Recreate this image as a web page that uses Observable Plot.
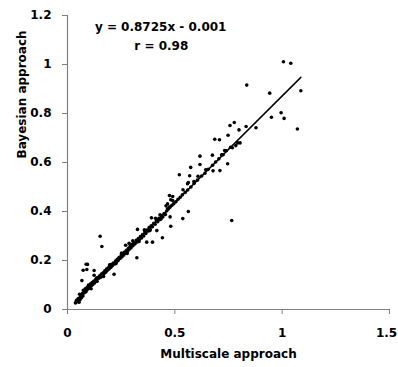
<!DOCTYPE html>
<html><head><meta charset="utf-8">
<script src="https://cdn.jsdelivr.net/npm/d3@7"></script>
<script src="https://cdn.jsdelivr.net/npm/@observablehq/plot@0.6"></script>
<style>body{margin:0;background:#fff}</style>
</head><body><div id="chart"></div>
<script>
const multiscale = [
0.037,0.054,0.042,0.048,0.050,0.058,0.060,0.056,0.065,0.067,0.070,0.072,0.074,0.078,0.080,0.083,0.086,0.090,0.092,0.096,
0.098,0.102,0.105,0.108,0.112,0.115,0.118,0.122,0.126,0.130,0.134,0.138,0.142,0.146,0.150,0.155,0.158,0.162,0.166,0.170,
0.174,0.178,0.182,0.186,0.190,0.194,0.198,0.202,0.206,0.210,0.214,0.220,0.224,0.228,0.232,0.236,0.240,0.245,0.250,0.254,
0.258,0.262,0.266,0.270,0.275,0.280,0.284,0.288,0.292,0.296,0.300,0.305,0.310,0.315,0.320,0.325,0.330,0.335,0.340,0.345,
0.350,0.355,0.360,0.365,0.370,0.375,0.380,0.385,0.390,0.396,0.402,0.408,0.414,0.420,0.426,0.432,0.438,0.444,0.450,0.456,
0.462,0.470,0.478,0.486,0.495,0.505,0.515,0.525,0.535,0.548,0.560,0.575,0.590,0.605,0.625,0.640,0.655,0.690,0.705,0.725,
0.740,0.760,
0.152,0.160,0.087,0.093,0.073,0.090,0.067,0.124,0.124,0.217,0.323,0.326,0.271,0.287,0.369,0.396,0.416,0.442,0.481,0.391,
0.425,0.478,0.537,0.563,0.431,0.466,0.459,0.466,0.475,0.481,0.490,0.475,0.490,0.538,0.559,0.563,0.589,0.521,0.569,0.608,
0.574,0.644,0.678,0.710,0.617,0.676,0.746,0.617,0.675,0.718,0.732,0.768,0.784,0.793,0.804,0.686,0.708,0.748,0.799,0.757,
0.777,0.832,0.878,0.835,0.950,0.995,1.009,1.071,0.942,1.087,1.006,1.040,0.765,
0.110,0.135,0.168,0.196,0.226,0.252,0.278,0.304,0.333,0.358,0.384,0.410,0.436
];
const bayesian = [
0.027,0.030,0.038,0.032,0.045,0.040,0.052,0.062,0.048,0.060,0.066,0.055,0.078,0.068,0.075,0.085,0.072,0.080,0.092,0.085,
0.100,0.088,0.095,0.105,0.098,0.110,0.102,0.115,0.108,0.120,0.125,0.115,0.130,0.128,0.138,0.132,0.145,0.140,0.150,0.146,
0.158,0.152,0.165,0.160,0.170,0.166,0.178,0.172,0.185,0.180,0.190,0.186,0.198,0.194,0.205,0.200,0.212,0.208,0.220,0.215,
0.228,0.222,0.235,0.230,0.242,0.238,0.250,0.246,0.258,0.252,0.265,0.260,0.272,0.268,0.282,0.276,0.290,0.286,0.298,0.292,
0.306,0.300,0.316,0.310,0.324,0.320,0.334,0.328,0.342,0.338,0.352,0.348,0.362,0.358,0.372,0.368,0.382,0.378,0.392,0.388,
0.402,0.410,0.418,0.425,0.432,0.440,0.450,0.458,0.468,0.478,0.488,0.500,0.515,0.528,0.545,0.556,0.572,0.602,0.615,0.632,
0.648,0.662,
0.299,0.257,0.185,0.184,0.160,0.163,0.118,0.140,0.159,0.144,0.211,0.327,0.262,0.270,0.275,0.275,0.322,0.293,0.340,0.374,
0.366,0.378,0.371,0.400,0.387,0.411,0.423,0.431,0.418,0.448,0.445,0.465,0.461,0.489,0.513,0.518,0.522,0.550,0.546,0.544,
0.580,0.570,0.566,0.567,0.592,0.589,0.595,0.626,0.630,0.631,0.649,0.660,0.669,0.680,0.680,0.695,0.693,0.711,0.733,0.751,
0.763,0.747,0.742,0.916,0.785,0.803,0.780,0.737,0.883,0.893,1.011,1.005,0.363,
0.085,0.128,0.135,0.182,0.188,0.230,0.229,0.280,0.278,0.325,0.322,0.372,0.370
];
const xTicks = [0, 0.5, 1, 1.5];
const yTicks = [0, 0.2, 0.4, 0.6, 0.8, 1, 1.2];
const xLabel = "Multiscale approach";
const yLabel = "Bayesian approach";
const slope = 0.8725, intercept = -0.001, rValue = 0.98;
const eqLines = [`y = ${slope}x - ${Math.abs(intercept)}`, `r = ${rValue}`];

const points = multiscale.map((x, i) => ({x, y: bayesian[i]}));
const fit = d3.extent(multiscale).map(x => ({x, y: slope * x + intercept}));
const lastTick = xTicks[xTicks.length - 1];

const axisStyle = {stroke: "#808080", fill: "#000", label: null, fontSize: 12, fontWeight: "bold", tickFormat: d3.format("")};

const chart = Plot.plot({
  width: 398, height: 367,
  marginLeft: 67, marginRight: 9, marginTop: 15, marginBottom: 58,
  style: {fontFamily: "DejaVu Sans", fontSize: "12px", fontWeight: "bold", color: "#000", background: "#fff"},
  x: {domain: [0, 1.5]},
  y: {domain: [0, 1.2]},
  marks: [
    Plot.ruleY([0], {stroke: "#808080", strokeWidth: 1.2}),
    Plot.ruleX([0], {stroke: "#808080", strokeWidth: 1.2}),
    Plot.axisX({...axisStyle, ticks: xTicks, tickSize: 5, tickFormat: () => ""}),
    Plot.axisX({...axisStyle, ticks: xTicks.filter(t => t !== lastTick), tickSize: 0, tickPadding: 19}),
    Plot.axisX({...axisStyle, ticks: [lastTick], tickSize: 0, tickPadding: 19, dx: -3}),
    Plot.axisY({...axisStyle, ticks: yTicks, tickSize: 5, tickPadding: 11}),
    Plot.text([xLabel], {frameAnchor: "bottom", dy: 48, fontSize: 12, fontWeight: "bold", fill: "#000"}),
    Plot.text([yLabel], {frameAnchor: "left", rotate: -90, dx: -45, dy: -4, fontSize: 12, fontWeight: "bold", fill: "#000"}),
    Plot.dot(points, {x: "x", y: "y", r: 1.8, fill: "#000", stroke: null}),
    Plot.line(fit, {x: "x", y: "y", stroke: "#000", strokeWidth: 1.5}),
    Plot.text([eqLines[0]], {x: 0.434, y: 1.151, fontSize: 12, fontWeight: "bold", fill: "#000"}),
    Plot.text([eqLines[1]], {x: 0.437, y: 1.073, fontSize: 12, fontWeight: "bold", fill: "#000"})
  ]
});
document.getElementById("chart").appendChild(chart);
</script>
</body></html>
